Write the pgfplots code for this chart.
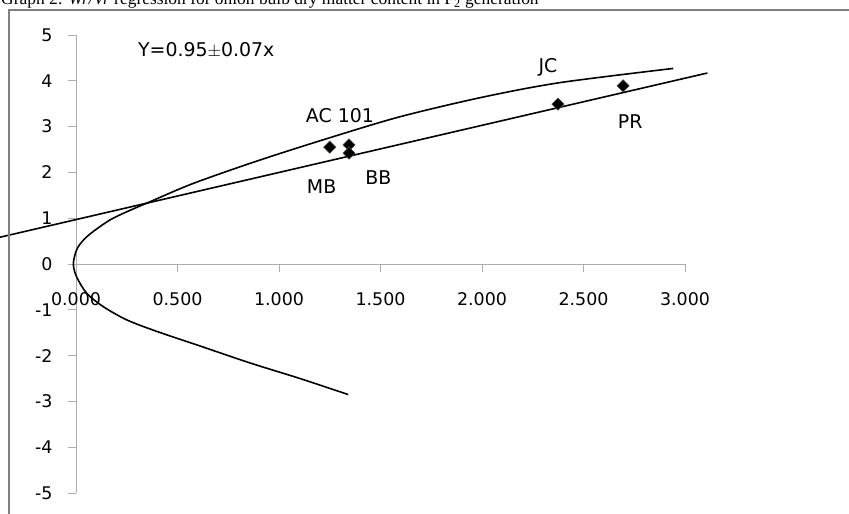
\documentclass[border=0pt]{standalone}
\usepackage{pgfplots}
\pgfplotsset{compat=1.18}
\usepackage{fontspec}
\setmainfont{DejaVu Sans}
\newfontfamily\titlefont{Liberation Serif}
\begin{document}
\begin{tikzpicture}[x=1bp,y=1bp]
\begin{axis}[
  at={(76bp,-264bp)}, anchor=origin,
  x=203bp, y=45.8bp,
  xmin=0, xmax=3, ymin=-5, ymax=5,
  axis lines=middle,
  axis line style={-, draw=gray!65, line width=0.8bp},
  clip=false,
  xtick={0,0.5,1,1.5,2,2.5,3},
  xticklabels={0.000,0.500,1.000,1.500,2.000,2.500,3.000},
  ytick={-5,-4,-3,-2,-1,0,1,2,3,4,5},
  yticklabels={-5,-4,-3,-2,-1,0,1,2,3,4,5},
  tick align=outside,
  major tick length=8bp,
  tick style={draw=gray!65, line width=0.8bp},
  hide obscured x ticks=false, hide obscured y ticks=false,
  xticklabel style={font=\fontsize{17.5}{20}\selectfont, anchor=center, yshift=-27bp},
  yticklabel style={font=\fontsize{17.5}{20}\selectfont, anchor=east, xshift=-12bp},
]
\addplot[black, line width=1.6bp, smooth] coordinates {
(1.341,-2.85) (1.103,-2.50) (0.857,-2.16) (0.611,-1.79) (0.397,-1.47)
(0.25,-1.22) (0.134,-0.93) (0.053,-0.64) (0.003,-0.28) (-0.013,0)
(0.003,0.31) (0.036,0.52) (0.085,0.71) (0.167,0.96) (0.25,1.14)
(0.365,1.36) (0.578,1.76) (0.906,2.27) (1.267,2.78) (1.60,3.22)
(2.0,3.64) (2.384,3.96) (2.942,4.27)
};
\addplot[black, line width=1.6bp] coordinates {(-0.374,0.585) (3.11,4.17)};
\addplot[only marks, mark=square*, mark size=4.3bp,
  mark options={rotate=45, fill=black, draw=black!60!olive, line width=0.6bp}]
  coordinates {(1.25,2.55) (1.345,2.60) (1.345,2.42) (2.374,3.49) (2.695,3.89)};
\begin{scope}[font=\fontsize{19}{22}\selectfont]
\node at (axis cs:1.30,3.25) {AC 101};
\node at (axis cs:1.21,1.70) {MB};
\node at (axis cs:1.49,1.88) {BB};
\node at (axis cs:2.325,4.30) {JC};
\node at (axis cs:2.73,3.12) {PR};
\node[anchor=west, inner sep=0] at (axis cs:0.305,4.67) {Y=0.95$\pm$0.07x};
\end{scope}
\end{axis}
\draw[gray, line width=1.5bp] (9,-514) -- (9,-10) -- (849,-10);
\node[anchor=base west, inner sep=0, font=\titlefont\fontsize{17.5}{20}\selectfont] at (1,-5)
  {Graph 2: \textit{Wr/Vr} regression for onion bulb dry matter content in F\textsubscript{2} generation};
\pgfresetboundingbox
\useasboundingbox (0,0) rectangle (849,-514);
\end{tikzpicture}
\end{document}
